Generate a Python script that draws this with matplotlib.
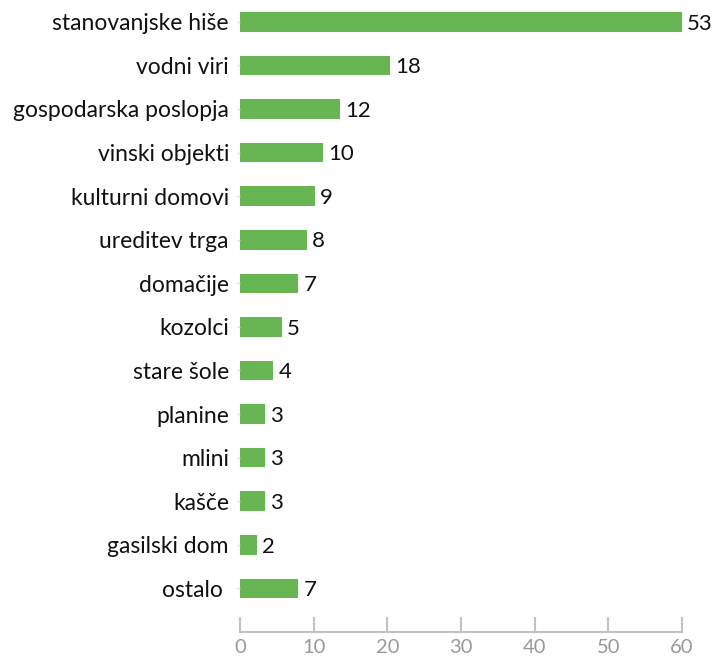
import matplotlib.pyplot as plt

categories = ['stanovanjske hiše', 'vodni viri', 'gospodarska poslopja', 'vinski objekti',
              'kulturni domovi', 'ureditev trga', 'domačije', 'kozolci', 'stare šole',
              'planine', 'mlini', 'kašče', 'gasilski dom', 'ostalo ']
counts = [53, 18, 12, 10, 9, 8, 7, 5, 4, 3, 3, 3, 2, 7]
axis_ticks = [0, 10, 20, 30, 40, 50, 60]

bar_color = '#68b554'
grey = '#c2c2c2'

fig = plt.figure(figsize=(7.12, 6.57), dpi=100)
ax = fig.add_axes([240 / 712, 1 - 632 / 657, 442 / 712, 632 / 657])

pos = list(range(len(categories)))
ax.barh(pos, counts, height=0.45, color=bar_color)
for p, c in zip(pos, counts):
    ax.text(c + 0.6, p + 0.04, str(c), va='center', ha='left', fontsize=16,
            family='Lato', color='#111111')

ax.set_xlim(0, max(counts))
ax.set_ylim(14.0, -0.5)
ax.set_yticks(pos)
ax.set_yticklabels(categories, fontsize=16.5, family='Lato', color='#111111',
                   va='center_baseline')
ax.tick_params(axis='y', length=2, width=1, color='#dddddd', pad=6)

# the scale drawn under the bars runs to 60 at the end of the longest bar
sec = ax.secondary_xaxis('bottom', functions=(lambda x: x * 60 / max(counts),
                                              lambda x: x * max(counts) / 60))
sec.set_xticks(axis_ticks)
sec.tick_params(direction='in', length=11, width=1.5, color=grey, labelsize=14.5,
                labelcolor='#999999', pad=5)
for lab in sec.get_xticklabels():
    lab.set_family('Lato')
sec.spines['bottom'].set_color(grey)
sec.spines['bottom'].set_linewidth(1.5)

ax.xaxis.set_visible(False)
for s in ['top', 'right', 'left', 'bottom']:
    ax.spines[s].set_visible(False)

fig.savefig('out.png', dpi=100)
